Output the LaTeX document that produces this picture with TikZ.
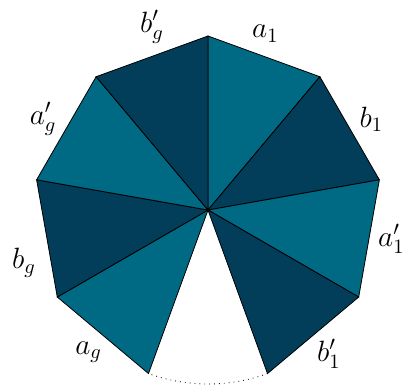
\documentclass[tikz,border=0pt]{standalone}
\usepackage{amsmath}
\usepackage{tikz}
\usetikzlibrary{positioning, calc}
\definecolor{tealLight}{HTML}{006A85}
\definecolor{tealDark}{HTML}{023E5A}

\begin{document}
\begin{tikzpicture}[
    light/.style={draw=black, fill=tealLight},
    dark/.style={draw=black, fill=tealDark},
    side_label/.style={font=\Large}
]
\useasboundingbox (-3.586,-3.017) rectangle (3.362,3.621);
\coordinate (O) at (0,0);
\foreach \i/\ang in {0/90,1/50,2/10,3/-30,4/-70,5/-110,6/-150,7/-190,8/-230}
    \coordinate (v\i) at (\ang:3cm);

\filldraw[light] (O) -- (v0) -- (v1) -- cycle;
\filldraw[dark] (O) -- (v1) -- (v2) -- cycle;
\filldraw[light] (O) -- (v2) -- (v3) -- cycle;
\filldraw[dark] (O) -- (v3) -- (v4) -- cycle;
\filldraw[light] (O) -- (v5) -- (v6) -- cycle;
\filldraw[dark] (O) -- (v6) -- (v7) -- cycle;
\filldraw[light] (O) -- (v7) -- (v8) -- cycle;
\filldraw[dark] (O) -- (v8) -- (v0) -- cycle;
\draw[dotted] (v4) arc (-70:-110:3cm);

\node[side_label] (la1) at (72:3.2cm) {$a_1$};
\node[side_label] (lb1) at (29:3.22cm) {$b_1$};
\node[side_label] (lc1) at (-9:3.2cm) {$a'_1$};
\node[side_label] (ld1) at (-50:3.24cm) {$b'_1$};
\node[side_label] (lag) at (-130:3.2cm) {$a_g$};
\node[side_label] (lbg) at (-164:3.3cm) {$b_g$};
\node[side_label] (lcg) at (151:3.25cm) {$a'_g$};
\node[side_label] (ldg) at (107:3.3cm) {$b'_g$};
\end{tikzpicture}
\end{document}
